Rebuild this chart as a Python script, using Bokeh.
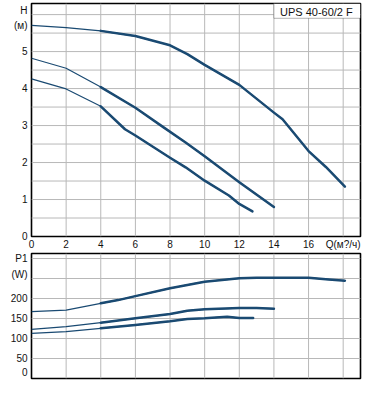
from bokeh.plotting import figure
from bokeh.layouts import column
from bokeh.models import FixedTicker, Range1d, BoxAnnotation, Label
from bokeh.embed import file_html
from bokeh.resources import INLINE

# ---- data: head curves H (m) vs Q (m3/h) ----
q_a = [0, 2, 4, 6, 8, 9, 10, 12, 14, 14.5, 16, 17, 18.1]
h_a = [5.71, 5.65, 5.56, 5.42, 5.17, 4.93, 4.64, 4.10, 3.35, 3.17, 2.31, 1.88, 1.35]
q_b = [0, 2, 4, 6, 7.63, 8.9, 10, 12, 14]
h_b = [4.82, 4.55, 4.04, 3.48, 2.95, 2.54, 2.17, 1.47, 0.80]
q_c = [0, 2, 4, 5.4, 6, 8, 8.9, 10, 11.4, 12, 12.76]
h_c = [4.26, 3.99, 3.52, 2.9, 2.73, 2.13, 1.87, 1.51, 1.11, 0.88, 0.68]

# ---- data: power curves P1 (W) vs Q ----
pq_a = [0, 2, 4, 5, 6, 8, 9, 10, 12, 13, 16, 17, 18.1]
p_a = [167, 171, 188, 196, 206, 225.5, 234, 242, 250.5, 252, 252, 248, 244.5]
pq_b = [0, 2, 4, 6, 8, 9, 10, 12, 13, 14]
p_b = [123, 129.5, 139.5, 150.5, 161, 169.5, 173, 176, 176, 174.5]
pq_c = [0, 2, 4, 6, 8, 9, 10, 11.3, 12, 12.8]
p_c = [113, 117, 125.5, 134, 143, 149, 150.5, 154.5, 151, 151]

x_ticks = [0, 2, 4, 6, 8, 10, 12, 14, 16, 18]
x_labels = ["0", "2", "4", "6", "8", "10", "12", "14", "16", "Q(м?/ч)"]
h_ticks = [0, 1, 2, 3, 4, 5, 5.71, 6.1]
h_labels = ["0", "1", "2", "3", "4", "5", "(м)", "H"]
p_ticks = [14, 50, 100, 150, 200, 261, 300]
p_labels = ["0", "50", "100", "150", "200", "(W)", "P1"]
x_grid = [2, 4, 6, 8, 10, 12, 14, 16, 18]
h_grid = [0.5, 1, 1.5, 2, 2.5, 3, 3.5, 4, 4.5, 5, 5.5, 6]
p_grid = [50, 100, 150, 200, 250, 300]
title_text = "UPS 40-60/2 F"

LINE = "#1a4a72"
GRID = "#b8b8b8"
FONT = "Liberation Sans"
THICK_FROM = 4


def style(p, yg):
    p.outline_line_color = "black"
    p.outline_line_width = 1.6
    p.background_fill_color = "white"
    p.border_fill_color = "white"
    for ax in p.xaxis + p.yaxis:
        ax.axis_line_color = None
        ax.major_tick_line_color = None
        ax.minor_tick_line_color = None
        ax.major_tick_out = 0
        ax.major_tick_in = 0
        ax.major_label_text_font = FONT
        ax.major_label_text_font_size = "10px"
        ax.major_label_text_color = "#111111"
    p.grid.visible = False
    # grid lines drawn as line glyphs from the grid value lists, spanning the ranges
    xr, yr = p.x_range, p.y_range
    for v in x_grid:
        p.line([v, v], [yr.start, yr.end], line_color=GRID, line_width=1)
    for v in yg:
        p.line([xr.start, xr.end], [v, v], line_color=GRID, line_width=1)


def curve(p, xs, ys):
    p.line(xs, ys, line_color=LINE, line_width=1.2, line_join="round")
    start = [i for i, x in enumerate(xs) if x >= THICK_FROM][0]
    p.line(xs[start:], ys[start:], line_color=LINE, line_width=2.5,
           line_join="round", line_cap="round")


# ---- top figure ----
top = figure(width=362, height=252, output_backend="svg",
             toolbar_location=None,
             x_range=Range1d(0, 19), y_range=Range1d(0, 6.3),
             min_border_left=31, min_border_right=2, min_border_top=3,
             min_border_bottom=14)
style(top, h_grid)
top.xaxis.ticker = FixedTicker(ticks=x_ticks)
top.xaxis.major_label_overrides = {t: l for t, l in zip(x_ticks, x_labels)}
top.xaxis.major_label_standoff = 2
top.yaxis.ticker = FixedTicker(ticks=h_ticks)
top.yaxis.major_label_overrides = {t: l for t, l in zip(h_ticks, h_labels)}
top.yaxis.major_label_standoff = 4
for xs, ys in [(q_a, h_a), (q_b, h_b), (q_c, h_c)]:
    curve(top, xs, ys)
top.add_layout(BoxAnnotation(left=14, right=19, bottom=5.9, top=6.3,
                             fill_color="white", fill_alpha=1,
                             line_color="black", line_width=1))
top.add_layout(Label(x=16.45, y=6.06, text=title_text, text_font=FONT,
                     text_font_size="11px", text_align="center",
                     text_baseline="middle", text_color="#111111"))

# ---- bottom figure ----
bot = figure(width=362, height=134, output_backend="svg",
             toolbar_location=None,
             x_range=Range1d(0, 19), y_range=Range1d(0, 312.5),
             min_border_left=31, min_border_right=2, min_border_top=1,
             min_border_bottom=8)
style(bot, p_grid)
bot.xaxis.visible = False
bot.yaxis.ticker = FixedTicker(ticks=p_ticks)
bot.yaxis.major_label_overrides = {t: l for t, l in zip(p_ticks, p_labels)}
bot.yaxis.major_label_standoff = 4
for xs, ys in [(pq_a, p_a), (pq_b, p_b), (pq_c, p_c)]:
    curve(bot, xs, ys)

layout = column(top, bot, spacing=0)
open("out.html", "w").write(file_html(layout, INLINE))
